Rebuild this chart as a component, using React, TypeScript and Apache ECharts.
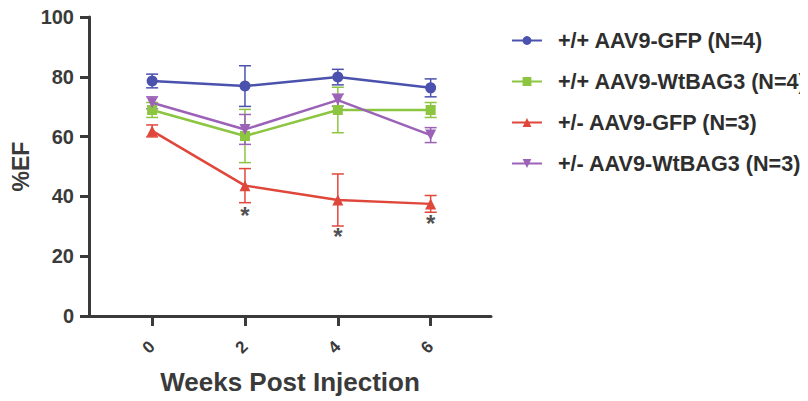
import React, { useEffect, useRef } from "react";
import * as echarts from "echarts";

const weeks = [0, 2, 4, 6];
const seriesNames = [
  "+/+ AAV9-GFP (N=4)",
  "+/+ AAV9-WtBAG3 (N=4)",
  "+/- AAV9-GFP (N=3)",
  "+/- AAV9-WtBAG3 (N=3)",
];
const wtGfpMean = [78.6, 76.9, 79.9, 76.3];
const wtGfpErr = [2.3, 6.8, 2.6, 3.0];
const wtBagMean = [68.9, 60.2, 68.9, 68.9];
const wtBagErr = [2.5, 8.9, 7.6, 2.5];
const hetGfpMean = [61.9, 43.6, 38.8, 37.5];
const hetGfpErr = [2.0, 5.7, 8.7, 2.8];
const hetBagMean = [71.3, 62.4, 72.2, 60.5];
const hetBagErr = [2.0, 5.0, 2.0, 2.5];
const starWeeks = [2, 4, 6];
const starValues = [35.1, 27.8, 32.4];
const yTicks = [0, 20, 40, 60, 80, 100];

const colors = ["#4b52ad", "#8cc540", "#e0473b", "#9b62b8"];
const symbols = ["circle", "rect", "triangle", "path://M0,0L10,0L5,9Z"];

export default function App() {
  const ref = useRef<HTMLDivElement>(null);
  useEffect(() => {
    if (!ref.current) return;
    const chart = echarts.init(ref.current, null, { renderer: "svg" });
    const means = [wtGfpMean, wtBagMean, hetGfpMean, hetBagMean];
    const errs = [wtGfpErr, wtBagErr, hetGfpErr, hetBagErr];
    const lineSeries: any[] = means.map((m, i) => ({
      name: seriesNames[i],
      type: "line",
      data: weeks.map((w, j) => [w, m[j]]),
      symbol: symbols[i],
      symbolSize: i === 1 ? 10 : 11,
      lineStyle: { color: colors[i], width: 2.5 },
      itemStyle: { color: colors[i] },
      z: 3,
    }));
    const errSeries: any[] = means.map((m, i) => ({
      name: "err-" + i,
      type: "custom",
      data: weeks.map((w, j) => [w, m[j], errs[i][j]]),
      z: 2,
      silent: true,
      renderItem: (params: any, api: any) => {
        const x = api.value(0);
        const y = api.value(1);
        const e = api.value(2);
        const top = api.coord([x, y + e]);
        const bot = api.coord([x, y - e]);
        const hw = 6;
        const style = { stroke: colors[i], lineWidth: 1.5 };
        return {
          type: "group",
          children: [
            { type: "line", shape: { x1: top[0], y1: top[1], x2: bot[0], y2: bot[1] }, style },
            { type: "line", shape: { x1: top[0] - hw, y1: top[1], x2: top[0] + hw, y2: top[1] }, style },
            { type: "line", shape: { x1: bot[0] - hw, y1: bot[1], x2: bot[0] + hw, y2: bot[1] }, style },
          ],
        };
      },
    }));
    const starSeries = {
      name: "stars",
      type: "scatter",
      data: starWeeks.map((w, j) => [w, starValues[j]]),
      symbolSize: 0,
      silent: true,
      label: {
        show: true,
        position: "inside",
        formatter: "*",
        color: "#222",
        fontSize: 24,
        fontWeight: "bold",
        fontFamily: "Liberation Sans",
        offset: [0, 4],
      },
      z: 4,
    };
    chart.setOption({
      animation: false,
      textStyle: { fontFamily: "Liberation Sans" },
      grid: { left: 89, top: 17, width: 402, height: 299, containLabel: false, outerBoundsMode: "none" },
      legend: {
        orient: "vertical",
        left: 506,
        top: 24.5,
        itemWidth: 30,
        itemHeight: 11,
        itemGap: 19,
        data: seriesNames,
        textStyle: {
          fontSize: 21.6,
          fontWeight: "bold",
          color: "#2e2e2e",
          fontFamily: "Liberation Sans",
          lineHeight: 20,
          padding: [0, 0, 0, 11],
        },
      },
      xAxis: {
        type: "value",
        min: -1.36,
        max: 7.3,
        name: "Weeks Post Injection",
        nameLocation: "middle",
        nameGap: 53,
        nameTextStyle: { fontSize: 26, fontWeight: "bold", color: "#3a3a3a" },
        axisLine: { onZero: false, lineStyle: { color: "#3a3a3a", width: 3 } },
        axisTick: { show: true, length: 10, customValues: weeks, lineStyle: { color: "#3a3a3a", width: 3 } },
        axisLabel: {
          customValues: weeks,
          rotate: 45,
          margin: 28,
          fontSize: 17,
          fontWeight: "bold",
          color: "#3a3a3a",
        },
        splitLine: { show: false },
      },
      yAxis: {
        type: "value",
        min: 0,
        max: 100,
        interval: 20,
        name: "%EF",
        nameLocation: "middle",
        nameGap: 57,
        nameRotate: 90,
        nameTextStyle: { fontSize: 23, fontWeight: "bold", color: "#3a3a3a" },
        axisLine: { show: true, onZero: false, lineStyle: { color: "#3a3a3a", width: 3 } },
        axisTick: { show: true, length: 9, lineStyle: { color: "#3a3a3a", width: 3 } },
        axisLabel: {
          margin: 15,
          fontSize: 20,
          fontWeight: "bold",
          color: "#3a3a3a",
          formatter: (v: number) => (yTicks.includes(v) ? String(v) : ""),
        },
        splitLine: { show: false },
      },
      series: [...errSeries, ...lineSeries, starSeries],
    });
    return () => chart.dispose();
  }, []);
  return <div ref={ref} style={{ width: 808, height: 401, margin: "-8px 0 0 -8px" }} />;
}
